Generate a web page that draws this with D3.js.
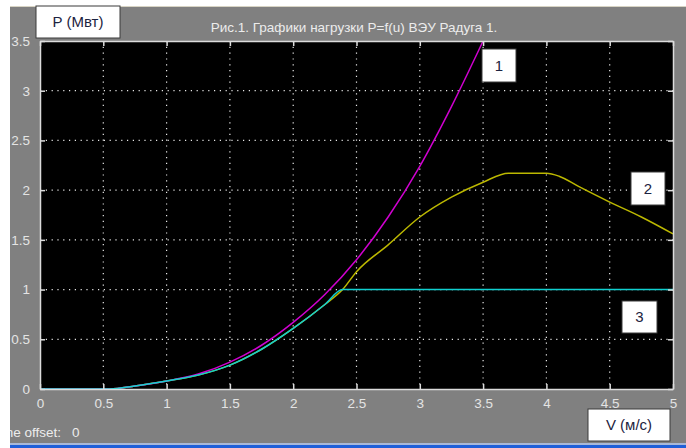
<!DOCTYPE html>
<html>
<head>
<meta charset="utf-8">
<script src="https://cdn.jsdelivr.net/npm/d3@7"></script>
<style>
  body { margin: 0; background: #fff; }
  text { font-family: "Liberation Sans", Arial, sans-serif; }
</style>
</head>
<body>
<svg id="chart" width="686" height="448"></svg>
<script>

// speeds, m/s
var speed_1 = [0, 0.25, 0.5, 0.55, 0.75, 1, 1.25, 1.5, 1.75, 2, 2.25, 2.5, 2.75, 3, 3.25, 3.5]
var power_1 = [0, 0, 0, 0, 0.03, 0.08, 0.15, 0.27, 0.44, 0.67, 0.95, 1.30, 1.73, 2.24, 2.84, 3.5]

var speed_2 = [0, 0.25, 0.5, 0.55, 0.75, 1, 1.25, 1.5, 1.75, 2, 2.25, 2.39, 2.5, 2.75, 3, 3.25, 3.5, 3.7, 4, 4.1, 4.25, 4.5, 4.75, 5]
var power_2 = [0, 0, 0, 0, 0.03, 0.08, 0.14, 0.24, 0.40, 0.61, 0.85, 1.0, 1.18, 1.45, 1.73, 1.93, 2.08, 2.17, 2.17, 2.14, 2.04, 1.88, 1.73, 1.56]

var speed_3 = [0, 0.25, 0.5, 0.55, 0.75, 1, 1.25, 1.5, 1.75, 2, 2.25, 2.39, 5]
var power_3 = [0, 0, 0, 0, 0.03, 0.08, 0.14, 0.24, 0.40, 0.61, 0.85, 1.0, 1.0]

var x_ticks = [0, 0.5, 1, 1.5, 2, 2.5, 3, 3.5, 4, 4.5, 5]
var y_ticks = [0, 0.5, 1, 1.5, 2, 2.5, 3, 3.5]

var title_text = "Рис.1. Графики нагрузки P=f(u) ВЭУ Радуга 1."


var margin = {top: 41, right: 13, bottom: 59, left: 40},
    width = 686 - margin.left - margin.right,
    height = 448 - margin.top - margin.bottom;

var x = d3.scaleLinear().domain([0, 5]).range([0, width]);
var y = d3.scaleLinear().domain([0, 3.5]).range([height, 0]);

var svg = d3.select("#chart");

// window background
svg.append("rect")
    .attr("x", 10).attr("y", 6)
    .attr("width", 676).attr("height", 439)
    .attr("fill", "#808080");
svg.append("rect")
    .attr("x", 10).attr("y", 6)
    .attr("width", 676).attr("height", 1)
    .attr("fill", "#d8d4c4");
svg.append("rect")
    .attr("x", 10).attr("y", 443)
    .attr("width", 676).attr("height", 2)
    .attr("fill", "#a8b8d8");
svg.append("rect")
    .attr("x", 10).attr("y", 445)
    .attr("width", 676).attr("height", 3)
    .attr("fill", "#1f5fd8");

var g = svg.append("g")
    .attr("transform", "translate(" + margin.left + "," + margin.top + ")");

g.append("rect")
    .attr("width", width)
    .attr("height", height)
    .attr("fill", "#000");

// dotted grid
g.append("g")
    .selectAll("line")
    .data(x_ticks.slice(1, -1))
    .enter().append("line")
    .attr("x1", function (d) { return x(d); })
    .attr("x2", function (d) { return x(d); })
    .attr("y1", 0).attr("y2", height)
    .attr("stroke", "#e8e8e8")
    .attr("stroke-width", 1.2)
    .attr("stroke-dasharray", "1.2,4.6");
g.append("g")
    .selectAll("line")
    .data(y_ticks.slice(1, -1))
    .enter().append("line")
    .attr("y1", function (d) { return y(d); })
    .attr("y2", function (d) { return y(d); })
    .attr("x1", 0).attr("x2", width)
    .attr("stroke", "#e8e8e8")
    .attr("stroke-width", 1.2)
    .attr("stroke-dasharray", "1.2,4.6");

// curves
var line = d3.line()
    .curve(d3.curveMonotoneX)
    .x(function (d) { return x(d[0]); })
    .y(function (d) { return y(d[1]); });

var curves = [
    {v: speed_2, p: power_2, color: "#bcb800"},
    {v: speed_1, p: power_1, color: "#d000d0"},
    {v: speed_3, p: power_3, color: "#10d0d0"}
];

g.selectAll(".curve")
    .data(curves)
    .enter().append("path")
    .attr("class", "curve")
    .attr("fill", "none")
    .attr("stroke", function (d) { return d.color; })
    .attr("stroke-width", 1.5)
    .attr("d", function (d) {
        return line(d.v.map(function (v, i) { return [v, d.p[i]]; }));
    });

// axes with inward ticks
var axisColor = "#dcdcdc";
function styleAxis(sel) {
    sel.selectAll("path").attr("stroke", axisColor).attr("stroke-width", 1.5);
    sel.selectAll("line").attr("stroke", axisColor).attr("stroke-width", 1.5);
    sel.selectAll("text")
        .attr("fill", "#e4e4e4")
        .style("font-size", "13.5px");
}

var fmt = function (d) { return String(d); };

g.append("g")
    .attr("transform", "translate(0," + height + ")")
    .call(d3.axisBottom(x).tickValues(x_ticks).tickFormat(fmt)
        .tickSizeInner(-5).tickSizeOuter(0).tickPadding(9))
    .call(styleAxis);
g.append("g")
    .call(d3.axisTop(x).tickValues(x_ticks).tickFormat("")
        .tickSizeInner(-5).tickSizeOuter(0))
    .call(styleAxis);
g.append("g")
    .call(d3.axisLeft(y).tickValues(y_ticks).tickFormat(fmt)
        .tickSizeInner(-5).tickSizeOuter(0).tickPadding(10))
    .call(styleAxis);
g.append("g")
    .attr("transform", "translate(" + width + ",0)")
    .call(d3.axisRight(y).tickValues(y_ticks).tickFormat("")
        .tickSizeInner(-5).tickSizeOuter(0))
    .call(styleAxis);

// title
svg.append("text")
    .attr("x", 354)
    .attr("y", 32)
    .attr("text-anchor", "middle")
    .attr("fill", "#ececec")
    .style("font-size", "13.5px")
    .text(title_text);

// white label boxes
var boxes = [
    {x: 36, y: 6, w: 84, h: 32, t: "P (Мвт)"},
    {x: 482, y: 49, w: 34, h: 33, t: "1"},
    {x: 631, y: 172, w: 34, h: 33, t: "2"},
    {x: 622, y: 301, w: 35, h: 32, t: "3"},
    {x: 588, y: 409, w: 82, h: 32, t: "V (м/с)"}
];
var bx = svg.selectAll(".box")
    .data(boxes)
    .enter().append("g")
    .attr("class", "box");
bx.append("rect")
    .attr("x", function (d) { return d.x; })
    .attr("y", function (d) { return d.y; })
    .attr("width", function (d) { return d.w; })
    .attr("height", function (d) { return d.h; })
    .attr("fill", "#fff")
    .attr("stroke", "#3a3a3a")
    .attr("stroke-width", 1);
bx.append("text")
    .attr("x", function (d) { return d.x + d.w / 2; })
    .attr("y", function (d) { return d.y + d.h / 2 + 5; })
    .attr("text-anchor", "middle")
    .attr("fill", "#1c2340")
    .style("font-size", "15px")
    .text(function (d) { return d.t; });

// status line, cut at the window edge
svg.append("clipPath").attr("id", "winclip")
    .append("rect").attr("x", 10).attr("y", 6).attr("width", 676).attr("height", 437);
svg.append("text")
    .attr("clip-path", "url(#winclip)")
    .attr("x", 61)
    .attr("y", 437)
    .attr("text-anchor", "end")
    .attr("fill", "#ececec")
    .style("font-size", "13.5px")
    .text("Time offset:");
svg.append("text")
    .attr("x", 72)
    .attr("y", 437)
    .attr("fill", "#ececec")
    .style("font-size", "13.5px")
    .text("0");

</script>
</body>
</html>
